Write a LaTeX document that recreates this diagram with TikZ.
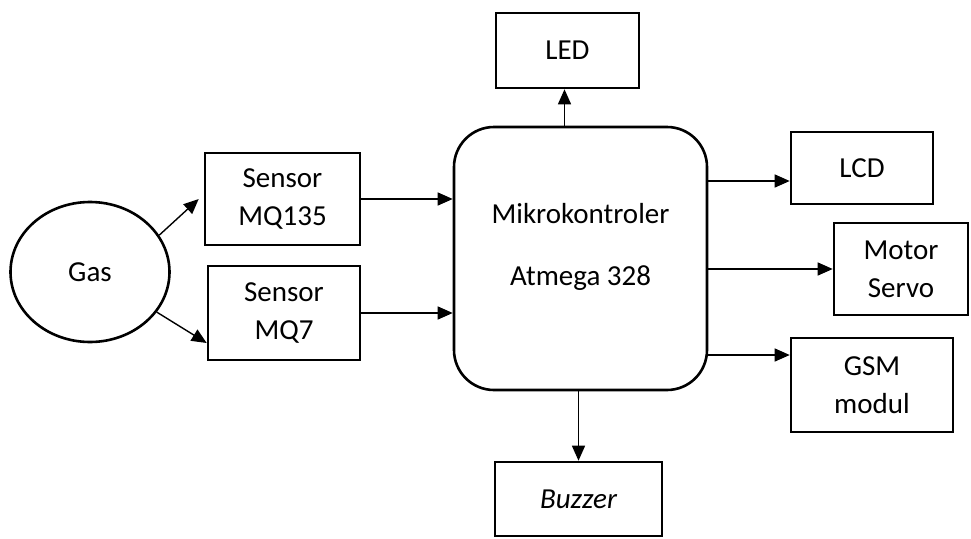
\documentclass[tikz,border=0pt]{standalone}
\usepackage{fontspec}
\setmainfont{Carlito}
\usetikzlibrary{arrows.meta, shapes.geometric, positioning}
\newcommand{\blok}[5]{%
  \node[blok, minimum width=#3pt, minimum height=#4pt] (#1) at #2 {#5};
}

\begin{document}
\begin{tikzpicture}[x=1pt, y=-1pt, >={Triangle[length=15pt, width=13pt]},
      font=\fontsize{29}{38}\selectfont,
      blok/.style={draw, line width=2.6pt, inner sep=0pt, align=center},
      arr/.style={->, line width=1.4pt}]
    \useasboundingbox (0,0) rectangle (971,538);
    % gas source
    \node[ellipse, draw, line width=2.6pt, minimum width=159pt,
          minimum height=140pt, inner sep=0pt] (gas) at (90,272) {Gas};
    % sensors
    \blok{mq135}{(282.5,199)}{155}{92}{Sensor\\MQ135}
    \blok{mq7}{(284,313)}{152}{94}{Sensor\\MQ7}
    % controller
    \node[draw, line width=2.6pt, rounded corners=40pt, minimum width=253pt,
          minimum height=263pt] (mcu) at (580.5,258.5) {};
    \node[align=center] (mcutext) at (580.5,247) {Mikrokontroler\\[24pt]Atmega 328};
    % outputs
    \blok{led}{(567.5,50.5)}{143}{75}{LED}
    \blok{buzzer}{(578.5,499)}{167}{74}{\itshape Buzzer}
    \blok{lcd}{(862,168)}{142}{72}{LCD}
    \blok{servo}{(901,269)}{134}{92}{Motor\\Servo}
    \blok{gsm}{(872,385)}{162}{94}{GSM\\modul}
    % connections
    \draw[arr] (gas.28) -- ([xshift=-5pt]mq135.west);
    \draw[arr] (gas.-31) -- ([yshift=-30pt]mq7.west);
    \foreach \s in {mq135, mq7}
      \draw[arr] (\s.east) -- (\s.east -| mcu.west);
    \draw[arr] ([xshift=-3pt]led.south |- mcu.north) -- ([xshift=-3pt]led.south);
    \draw[arr] (buzzer.north |- mcu.south) -- (buzzer.north);
    \draw[arr] ([yshift=-13pt]lcd.west -| mcu.east) -- ([yshift=-13pt]lcd.west);
    \draw[arr] (servo.west -| mcu.east) -- (servo.west);
    \draw[arr] ([yshift=30pt]gsm.west -| mcu.east) -- ([yshift=30pt]gsm.west);
  \end{tikzpicture}
\end{document}
